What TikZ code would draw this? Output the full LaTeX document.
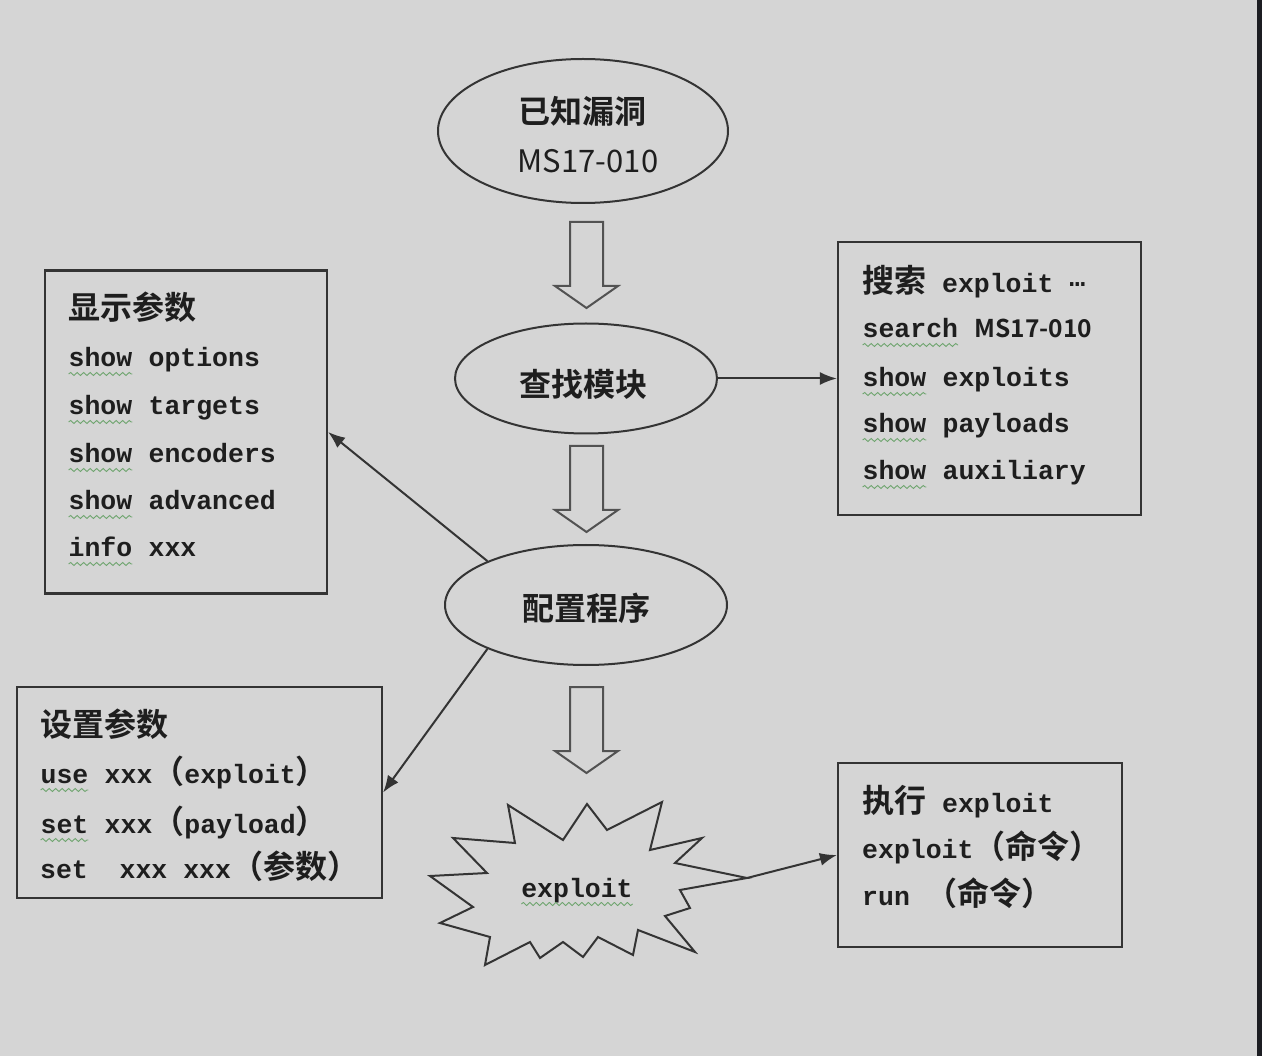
\documentclass[tikz,border=0pt]{standalone}
\usepackage{fontspec}
\usetikzlibrary{arrows.meta,shapes.geometric,decorations.pathmorphing}
\newfontfamily\cjk{Noto Sans CJK SC}[BoldFont={Noto Sans CJK SC Bold}]
\newfontfamily\mono{Liberation Mono}
\definecolor{bgc}{HTML}{D5D5D5}
\definecolor{inkc}{HTML}{1E1E1E}
\definecolor{linec}{HTML}{343434}
\definecolor{wavec}{HTML}{6FA56F}
\definecolor{stripc}{HTML}{1C1D22}
\tikzset{
  sqline/.style={draw=wavec, line width=0.9pt, decorate, decoration={snake, amplitude=1.5pt, segment length=6.5pt}},
}
\newcommand\sq[1]{\tikz[baseline=0pt,x=1pt,y=1pt]{\node[inner sep=0pt,outer sep=0pt,anchor=base west] (sqw) at (0,0) {#1};\draw[sqline] ([yshift=-7pt]sqw.base west) -- ([yshift=-7pt]sqw.base east);}}
\newcommand\zh[1]{{\cjk\bfseries\fontsize{32}{36}\selectfont #1}}
\newcommand\zs[2]{{\cjk\fontsize{#1}{#1}\selectfont #2}}
\begin{document}
\begin{tikzpicture}[x=1pt,y=-1pt,
  boxn/.style={draw=linec, line width=2.2pt, inner sep=0pt, rectangle},
  elln/.style={draw=linec, line width=2pt, inner sep=0pt, ellipse},
  mtext/.style={inner sep=0pt, anchor=base west, text=inkc, font=\mono\bfseries\fontsize{26.5}{30}\selectfont},
  ztext/.style={inner sep=0pt, text=inkc, font=\cjk\bfseries\fontsize{32}{36}\selectfont},
  conn/.style={draw=linec, line width=2pt, -{Latex[length=17pt,width=13pt]}},
  barrow/.pic={\draw[draw=linec!85, line width=2pt, line join=miter] (-16.5,0) -- (16.5,0) -- (16.5,64) -- (31.5,64) -- (0,86) -- (-31.5,64) -- (-16.5,64) -- cycle;},
]
% background and margins
\fill[bgc] (0,0) rectangle (1262,1056);
\fill[stripc] (1257,0) rectangle (1262,1056);
\useasboundingbox (0,0) rectangle (1262,1056);

% ellipses
\node[elln, minimum width=290pt, minimum height=144pt] (e1) at (583,131) {};
\node[ztext] (t1a) at (582,111) {已知漏洞};
\node[inner sep=0pt, anchor=base, text=inkc, font=\cjk\fontsize{31}{36}\selectfont] (t1b) at (588,173) {MS17-010};

\node[elln, minimum width=262pt, minimum height=110pt] (e2) at (586,378.5) {};
\node[ztext] (t2) at (583,384) {查找模块};

\node[elln, minimum width=282pt, minimum height=120pt] (e3) at (586,605) {};
\node[ztext] (t3) at (586,608) {配置程序};

% block arrows
\pic at (586.5,222) {barrow};
\pic at (586.5,446) {barrow};
\pic at (586.5,687) {barrow};

% starburst
\draw[draw=linec, line width=2pt, line join=miter]
 (508,805) -- (563,840) -- (587,804) -- (607,830) -- (662,802) -- (650,850)
 -- (702,838) -- (675,863) -- (747,878) -- (680,890) -- (690,908) -- (665,916)
 -- (695,952) -- (638,930) -- (633,955) -- (598,937) -- (583,957) -- (563,942)
 -- (540,958) -- (530,942) -- (485,965) -- (490,937) -- (440,923) -- (473,907)
 -- (430,876) -- (487,873) -- (453,838) -- (515,843) -- cycle;
\coordinate (sp) at (747,878);
\node[mtext, anchor=base] (ex) at (577,897) {\sq{exploit}};

% box 1
\node[boxn, minimum width=282pt, minimum height=323pt] (b1) at (186,432) {};
\node[mtext] (b1l0) at (68,320) {\zh{显示参数}};
\node[mtext] (b1l1) at (68,367) {\sq{show} options};
\node[mtext] (b1l2) at (68,415) {\sq{show} targets};
\node[mtext] (b1l3) at (68,463) {\sq{show} encoders};
\node[mtext] (b1l4) at (68,510) {\sq{show} advanced};
\node[mtext] (b1l5) at (68,557) {\sq{info} xxx};

% box 2
\node[boxn, minimum width=365pt, minimum height=211pt] (b2) at (199.5,792.5) {};
\node[mtext] (b2l0) at (40,736) {\zh{设置参数}};
\node[mtext] (b2l1) at (40,783) {\sq{use} xxx\zh{（}exploit\zh{）}};
\node[mtext] (b2l2) at (40,833) {\sq{set} xxx\zh{（}payload\zh{）}};
\node[mtext] (b2l3) at (40,878) {set\ \ xxx xxx\zh{（参数）}};

% box 3
\node[boxn, minimum width=303pt, minimum height=273pt] (b3) at (989.5,378.5) {};
\node[mtext] (b3l0) at (862,293) {\zh{搜索} exploit \raisebox{6pt}{…}};
\node[mtext] (b3l1) at (862,338) {\sq{search} \zs{24.5}{MS17-010}};
\node[mtext] (b3l2) at (862,387) {\sq{show} exploits};
\node[mtext] (b3l3) at (862,433) {\sq{show} payloads};
\node[mtext] (b3l4) at (862,480) {\sq{show} auxiliary};

% box 4
\node[boxn, minimum width=284pt, minimum height=184pt] (b4) at (980,855) {};
\node[mtext] (b4l0) at (862,812) {\zh{执行} exploit};
\node[mtext] (b4l1) at (862,858) {exploit\zh{（命令）}};
\node[mtext] (b4l2) at (862,905) {run \zh{（命令）}};

% connectors
\draw[conn] (e2.east) -- (b3.west);
\draw[conn] (e3.156) -- (b1.east);
\draw[conn] (e3.204) -- (b2.east);
\draw[conn] (sp) -- (b4.west);
\end{tikzpicture}
\end{document}
